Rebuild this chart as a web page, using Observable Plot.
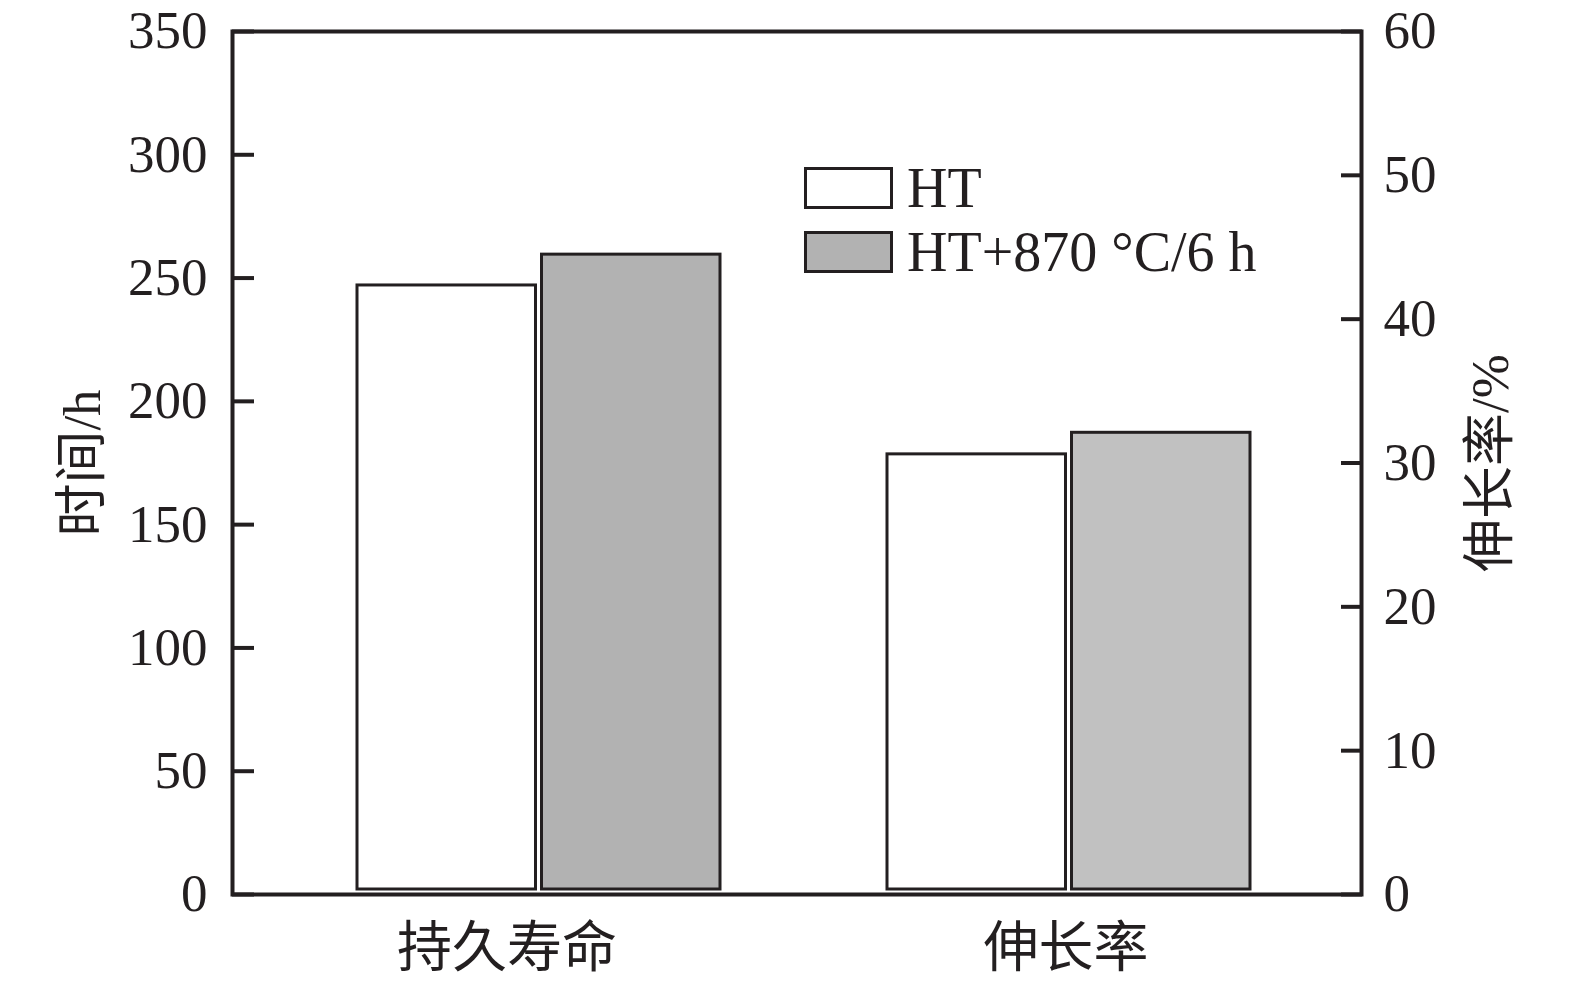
<!DOCTYPE html>
<html>
<head>
<meta charset="utf-8">
<script src="https://cdn.jsdelivr.net/npm/d3@7"></script>
<script src="https://cdn.jsdelivr.net/npm/@observablehq/plot@0.6"></script>
<style>
  body { margin: 0; background: #fff; }
  #wrap { position: relative; width: 1575px; height: 984px; }
  .legend { position: absolute; left: 804px; top: 156px; font-family: "Liberation Serif", "Noto Sans CJK SC", serif; font-size: 56px; color: #231f20; }
  .row { display: flex; align-items: center; height: 64px; line-height: 1; white-space: pre; }
  .sw { width: 83px; height: 36px; border: 3px solid #231f20; margin-right: 14px; }
</style>
</head>
<body>
<div id="wrap"></div>
<script>
// ---- data ----
const categories = ["持久寿命", "伸长率"];
const categoryUnits = ["h", "%"];           // 持久寿命 on left axis (h), 伸长率 on right axis (%)
const series = ["HT", "HT+870 °C/6 h"];
const valuesHT = [247, 30.6];
const valuesHT870 = [259.5, 32.1];
const leftTicks = [0, 50, 100, 150, 200, 250, 300, 350];
const rightTicks = [0, 10, 20, 30, 40, 50, 60];
const leftLabel = "时间/h";
const rightLabel = "伸长率/%";

// ---- styles ----
const ink = "#231f20";
const fillHT = ["#ffffff", "#ffffff"];
const fillHT870 = ["#b2b2b2", "#c1c1c1"];
const legendFills = ["#ffffff", "#b2b2b2"];
const serifFont = '"Liberation Serif", "Noto Sans CJK SC", serif';

const leftMax = leftTicks[leftTicks.length - 1];
const rightMax = rightTicks[rightTicks.length - 1];
const toLeft = v => v * leftMax / rightMax;
const fromLeft = v => v * rightMax / leftMax;

const rows = categories.flatMap((c, i) => {
  const conv = categoryUnits[i] === "%" ? toLeft : (v => v);
  return [
    {category: c, series: series[0], value: valuesHT[i], y: conv(valuesHT[i]), fill: fillHT[i]},
    {category: c, series: series[1], value: valuesHT870[i], y: conv(valuesHT870[i]), fill: fillHT870[i]}
  ];
});

const chart = Plot.plot({
  width: 1575,
  height: 984,
  marginLeft: 232,
  marginRight: 214,
  marginTop: 31,
  marginBottom: 90,
  style: {fontFamily: serifFont, color: ink, background: "#fff"},
  x: {domain: categories, paddingInner: 0.3157, paddingOuter: 0.222, align: 0.529},
  y: {domain: [0, leftMax]},
  color: {type: "identity"},
  marks: [
    Plot.barY(rows.filter(d => d.series === series[0]), {
      x: "category", y: "y", fill: "fill", stroke: ink, strokeWidth: 3,
      insetRight: 184.5, insetBottom: 5
    }),
    Plot.barY(rows.filter(d => d.series === series[1]), {
      x: "category", y: "y", fill: "fill", stroke: ink, strokeWidth: 3,
      insetLeft: 184.5, insetBottom: 5
    }),
    Plot.axisY(leftTicks, {
      anchor: "left", tickSize: -22, tickPadding: 47, strokeWidth: 4, color: ink,
      fontSize: 53, fontFamily: serifFont,
      label: leftLabel, labelAnchor: "center", labelOffset: 170, labelArrow: "none"
    }),
    Plot.axisY(rightTicks.map(toLeft), {
      anchor: "right", tickSize: -21, tickPadding: 43, strokeWidth: 4, color: ink,
      fontSize: 53, fontFamily: serifFont,
      tickFormat: d => String(Math.round(fromLeft(d))),
      label: rightLabel, labelAnchor: "center", labelOffset: 146, labelArrow: "none"
    }),
    Plot.axisX([categories[0]], {
      tickSize: 0, tickPadding: 32, dx: -32, fontSize: 55, fontFamily: serifFont, color: ink, label: null
    }),
    Plot.axisX([categories[1]], {
      tickSize: 0, tickPadding: 32, dx: -3, fontSize: 55, fontFamily: serifFont, color: ink, label: null
    }),
    Plot.frame({stroke: ink, strokeWidth: 4})
  ]
});

const wrap = document.getElementById("wrap");
wrap.appendChild(chart);

// legend inside the plot
const legend = document.createElement("div");
legend.className = "legend";
series.forEach((s, i) => {
  const row = document.createElement("div");
  row.className = "row";
  const sw = document.createElement("span");
  sw.className = "sw";
  sw.style.background = legendFills[i];
  const t = document.createElement("span");
  t.textContent = s;
  row.appendChild(sw);
  row.appendChild(t);
  legend.appendChild(row);
});
wrap.appendChild(legend);
</script>
</body>
</html>
